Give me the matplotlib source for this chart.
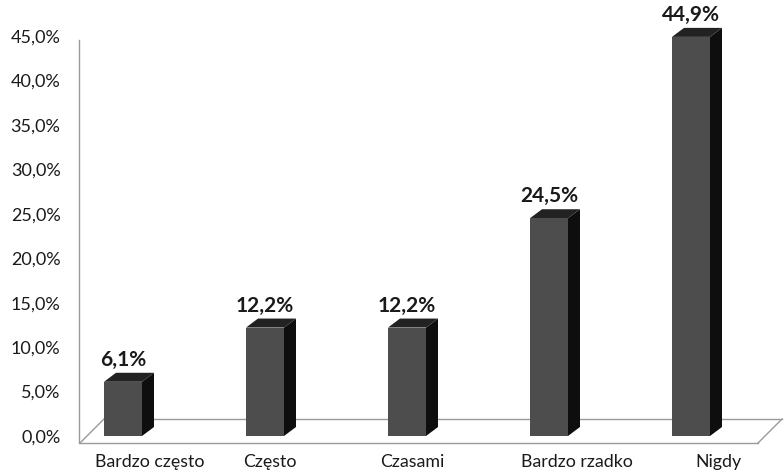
import matplotlib
matplotlib.use("Agg")
import matplotlib.pyplot as plt
from matplotlib.patches import Polygon
from matplotlib.lines import Line2D
from matplotlib.ticker import FuncFormatter

# Survey answers and their shares (percent)
categories = ["Bardzo często", "Często", "Czasami", "Bardzo rzadko", "Nigdy"]
shares = [6.1, 12.2, 12.2, 24.5, 44.9]
y_ticks = [0, 5, 10, 15, 20, 25, 30, 35, 40, 45]

plt.rcParams['font.family'] = ['Lato', 'DejaVu Sans']

W, H, DPI = 784, 471, 100
fig = plt.figure(figsize=(W / DPI, H / DPI), dpi=DPI)

# plot area in pixels
left_px, right_px = 80, 758
zero_px, top_px = 436, 36
step_px = 142          # distance between category centres
first_px = 123         # centre of the first category
ax = fig.add_axes([left_px / W, (H - zero_px) / H,
                   (right_px - left_px) / W, (zero_px - top_px) / H])
x0 = -(first_px - left_px) / step_px
x1 = x0 + (right_px - left_px) / step_px
ax.set_xlim(x0, x1)
ax.set_ylim(0, 45)
ax.patch.set_visible(False)

# pixel -> data unit conversion
ux = 1.0 / step_px
uy = 45.0 / (zero_px - top_px)

# pseudo-3D geometry (pixels)
bar_w = 38 * ux
dep_x, dep_y = 12 * ux, 9 * uy
floor_front, floor_back = -7 * uy, 17 * uy
floor_dx = 24 * ux

grid_col = "#9a9a9a"
# floor outline
floor = [
    ([x0, x1], [floor_front, floor_front]),
    ([x0 + floor_dx, x1 + floor_dx], [floor_back, floor_back]),
    ([x0, x0 + floor_dx], [floor_front, floor_back]),
    ([x1, x1 + floor_dx], [floor_front, floor_back]),
]
for xs, ys in floor:
    ax.add_line(Line2D(xs, ys, color=grid_col, lw=1.0, clip_on=False, zorder=1))
# vertical value axis
ax.add_line(Line2D([x0 - 1 * ux, x0 - 1 * ux], [floor_front, 44.55],
                   color=grid_col, lw=1.0, clip_on=False, zorder=1))

front_c, side_c, top_c = "#4d4d4d", "#0e0e0e", "#222222"
for i, v in enumerate(shares):
    l, r = i - bar_w / 2, i + bar_w / 2
    front = Polygon([(l, 0), (r, 0), (r, v), (l, v)], closed=True,
                    fc=front_c, ec="none", zorder=3, clip_on=False)
    side = Polygon([(r, 0), (r + dep_x, dep_y), (r + dep_x, v + dep_y), (r, v)],
                   closed=True, fc=side_c, ec="none", zorder=2, clip_on=False)
    top = Polygon([(l, v), (r, v), (r + dep_x, v + dep_y), (l + dep_x, v + dep_y)],
                  closed=True, fc=top_c, ec="none", zorder=2, clip_on=False)
    for p in (side, top, front):
        ax.add_patch(p)
    ax.annotate(f"{v:.1f}%".replace(".", ","), (i, v), xytext=(0, 16),
                textcoords="offset pixels", ha="center", va="baseline",
                fontsize=15, fontweight="bold", color="#1a1a1a",
                annotation_clip=False)

# category labels along the floor front
label_shift_px = [27, 5, 5, 28, 27]
for i, (name, s) in enumerate(zip(categories, label_shift_px)):
    ax.annotate(name, (i, 0), xytext=(s, -(467 - zero_px)),
                textcoords="offset pixels", ha="center", va="baseline",
                fontsize=12.8, color="#1a1a1a", annotation_clip=False)

ax.set_xticks([])
ax.set_yticks(y_ticks)
ax.yaxis.set_major_formatter(FuncFormatter(lambda v, _: f"{v:.1f}%".replace(".", ",")))
ax.tick_params(axis="y", length=0, pad=14, labelsize=13, labelcolor="#1a1a1a")
for sp in ax.spines.values():
    sp.set_visible(False)

fig.savefig("out.png", dpi=DPI)
